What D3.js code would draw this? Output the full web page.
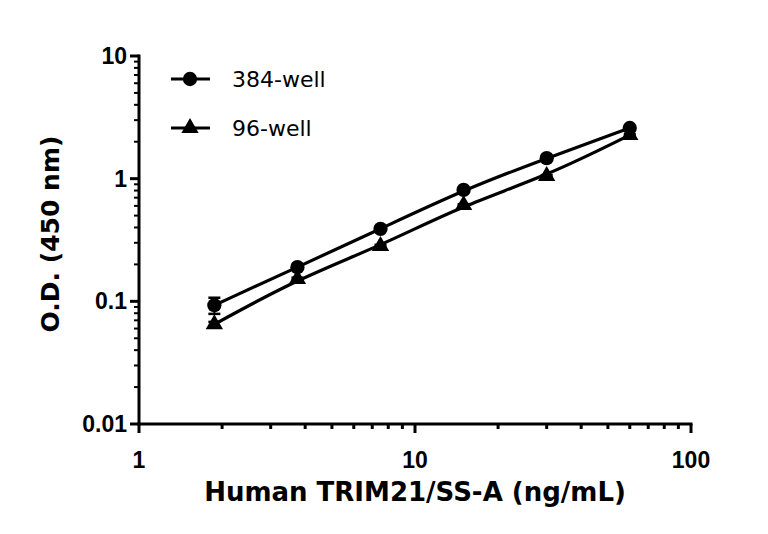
<!DOCTYPE html>
<html><head><meta charset="utf-8">
<script src="https://cdn.jsdelivr.net/npm/d3@7"></script>
<style>body{margin:0;background:#fff}svg{display:block}</style>
</head><body>
<svg id="c" width="768" height="534"></svg>
<script>
const concentrations = [1.875, 3.75, 7.5, 15, 30, 60];
const od384 = [0.093, 0.19, 0.39, 0.81, 1.47, 2.59];
const err384 = [0.014, 0.006, 0.01, 0.02, 0.03, 0.05];
const od96 = [0.065, 0.152, 0.283, 0.61, 1.05, 2.27];
const err96 = [0.003, 0.004, 0.006, 0.01, 0.02, 0.04];
const xTickLabels = ["1", "10", "100"];
const yTickLabels = ["0.01", "0.1", "1", "10"];
const seriesNames = ["384-well", "96-well"];

const svg = d3.select("#c");
const x = d3.scaleLog().domain([1, 100]).range([139, 691]);
const y = d3.scaleLog().domain([0.01, 10]).range([424, 56]);

const xMinor = [], yMinor = [];
[1, 10].forEach(d => { for (let k = 2; k <= 9; k++) xMinor.push(d * k); });
[0.01, 0.1, 1].forEach(d => { for (let k = 2; k <= 9; k++) yMinor.push(+(d * k).toPrecision(3)); });

const g = svg.append("g");
g.append("line").attr("x1", x(1)).attr("x2", x(100)).attr("y1", y(0.01)).attr("y2", y(0.01))
  .attr("stroke", "#000").attr("stroke-width", 3).attr("stroke-linecap", "square");
g.append("line").attr("x1", x(1)).attr("x2", x(1)).attr("y1", y(0.01)).attr("y2", y(10))
  .attr("stroke", "#000").attr("stroke-width", 3).attr("stroke-linecap", "square");

g.selectAll(".xmaj").data([1, 10, 100]).enter().append("line")
  .attr("x1", d => x(d)).attr("x2", d => x(d)).attr("y1", y(0.01)).attr("y2", y(0.01) + 9)
  .attr("stroke", "#000").attr("stroke-width", 3);
g.selectAll(".xmin").data(xMinor).enter().append("line")
  .attr("x1", d => x(d)).attr("x2", d => x(d)).attr("y1", y(0.01)).attr("y2", y(0.01) + 5)
  .attr("stroke", "#000").attr("stroke-width", 3);
g.selectAll(".ymaj").data([0.01, 0.1, 1, 10]).enter().append("line")
  .attr("x1", x(1)).attr("x2", x(1) - 9).attr("y1", d => y(d)).attr("y2", d => y(d))
  .attr("stroke", "#000").attr("stroke-width", 3);
g.selectAll(".ymin").data(yMinor).enter().append("line")
  .attr("x1", x(1)).attr("x2", x(1) - 5).attr("y1", d => y(d)).attr("y2", d => y(d))
  .attr("stroke", "#000").attr("stroke-width", 2);

const tickFont = "'Liberation Sans', Arial, sans-serif";
g.selectAll(".xl").data(xTickLabels).enter().append("text")
  .attr("x", d => x(+d)).attr("y", 468).attr("text-anchor", "middle")
  .attr("font-family", tickFont).attr("font-weight", "bold").attr("font-size", 23).text(d => d);
g.selectAll(".yl").data(yTickLabels).enter().append("text")
  .attr("x", 127).attr("y", d => y(+d) + 8).attr("text-anchor", "end")
  .attr("font-family", tickFont).attr("font-weight", "bold").attr("font-size", 23).text(d => d);

const titleFont = "'DejaVu Sans', sans-serif";
svg.append("text").attr("x", 415).attr("y", 501).attr("text-anchor", "middle")
  .attr("font-family", titleFont).attr("font-weight", "bold").attr("font-size", 26)
  .text("Human TRIM21/SS-A (ng/mL)");
svg.append("text").attr("transform", "translate(59,234) rotate(-90)").attr("text-anchor", "middle")
  .attr("font-family", titleFont).attr("font-weight", "bold").attr("font-size", 25)
  .text("O.D. (450 nm)");

const line = d3.line().x(d => x(d[0])).y(d => y(d[1])).curve(d3.curveBasis);
const s384 = concentrations.map((c, i) => [c, od384[i], err384[i]]);
const s96 = concentrations.map((c, i) => [c, od96[i], err96[i]]);
[s384, s96].forEach(s => {
  svg.append("path").datum(s).attr("d", line).attr("fill", "none")
    .attr("stroke", "#000").attr("stroke-width", 3.2);
  s.forEach(d => {
    const y1 = y(d[1] + d[2]), y2 = y(d[1] - d[2]);
    svg.append("line").attr("x1", x(d[0])).attr("x2", x(d[0])).attr("y1", y1).attr("y2", y2)
      .attr("stroke", "#000").attr("stroke-width", 2);
    svg.append("line").attr("x1", x(d[0]) - 6).attr("x2", x(d[0]) + 6).attr("y1", y1).attr("y2", y1)
      .attr("stroke", "#000").attr("stroke-width", 2.5);
    svg.append("line").attr("x1", x(d[0]) - 6).attr("x2", x(d[0]) + 6).attr("y1", y2).attr("y2", y2)
      .attr("stroke", "#000").attr("stroke-width", 2.5);
  });
});
const circ = d3.symbol().type(d3.symbolCircle).size(160);
const tri = d3.symbol().type(d3.symbolTriangle).size(130);
svg.selectAll(".m96").data(s96).enter().append("path")
  .attr("transform", d => `translate(${x(d[0])},${y(d[1])})`).attr("d", tri).attr("fill", "#000");
svg.selectAll(".m384").data(s384).enter().append("path")
  .attr("transform", d => `translate(${x(d[0])},${y(d[1])})`).attr("d", circ).attr("fill", "#000");

const legendFont = "'DejaVu Sans', sans-serif";
const leg = svg.append("g");
[[79, circ], [128, tri]].forEach((row, i) => {
  leg.append("line").attr("x1", 171).attr("x2", 210).attr("y1", row[0]).attr("y2", row[0])
    .attr("stroke", "#000").attr("stroke-width", 3.2);
  leg.append("path").attr("transform", `translate(190,${row[0]})`).attr("d", row[1]).attr("fill", "#000");
  leg.append("text").attr("x", 232).attr("y", row[0] + 8).attr("font-family", legendFont)
    .attr("font-size", 22).text(seriesNames[i]);
});
</script>
</body></html>
